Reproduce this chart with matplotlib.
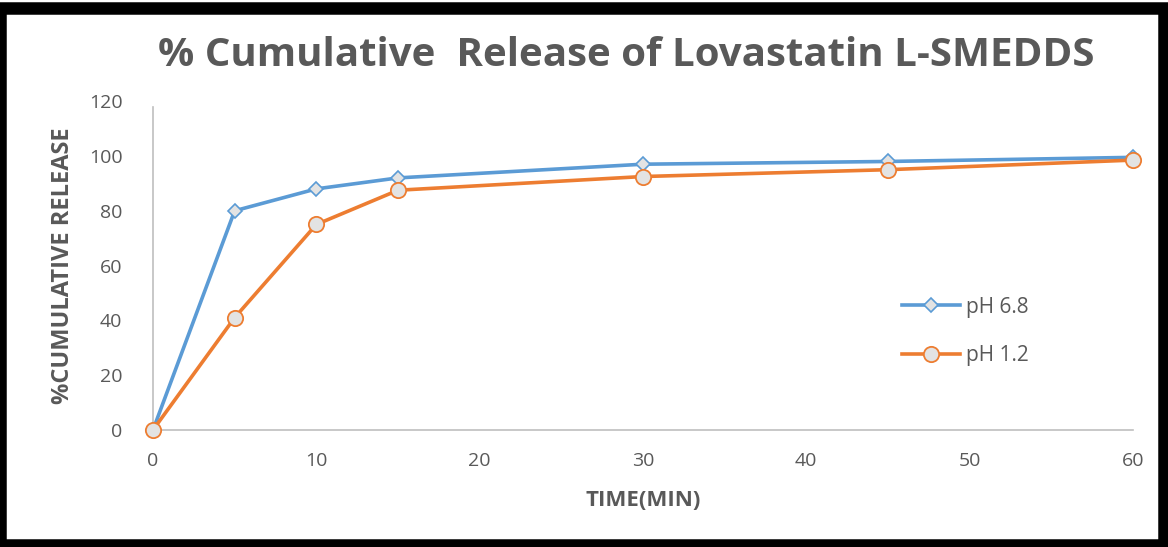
import matplotlib
matplotlib.use("Agg")
import matplotlib.pyplot as plt
from matplotlib.patches import Rectangle

# data
time_min = [0, 5, 10, 15, 30, 45, 60]
ph68 = [0, 80, 88, 92, 97, 98, 99.5]
ph12 = [0, 41, 75, 87.5, 92.5, 95, 98.5]
x_ticks = [0, 10, 20, 30, 40, 50, 60]
y_ticks = [0, 20, 40, 60, 80, 100, 120]

BLUE = "#5B9BD5"
ORANGE = "#ED7D31"
GREY = "#595959"
FACE = "#E3E3E3"

plt.rcParams["font.family"] = ["Open Sans", "DejaVu Sans"]

fig = plt.figure(figsize=(11.68, 5.47), dpi=100)
ax = fig.add_axes([0.131, 0.214, 0.839, 0.601])

ax.plot(time_min, ph68, "-D", color=BLUE, lw=2.6, ms=7, mfc=FACE, mec=BLUE,
        mew=1.2, label="pH 6.8", zorder=3, clip_on=False)
ax.plot(time_min, ph12, "-o", color=ORANGE, lw=2.6, ms=11, mfc=FACE, mec=ORANGE,
        mew=1.3, label="pH 1.2", zorder=3, clip_on=False)

ax.set_xlim(0, 60)
ax.set_ylim(0, 120)
ax.set_xticks(x_ticks)
ax.set_yticks(y_ticks)
ax.tick_params(length=0, colors=GREY, labelsize=14)
ax.tick_params(axis="x", pad=16)
ax.tick_params(axis="y", pad=22)
for s in ["top", "right"]:
    ax.spines[s].set_visible(False)
for s in ["left", "bottom"]:
    ax.spines[s].set_color("#BFBFBF")
    ax.spines[s].set_linewidth(1.2)
ax.spines["left"].set_bounds(0, 118)

ax.set_xlabel("TIME(MIN)", fontsize=16, fontweight="bold", color=GREY, labelpad=14)
ax.set_ylabel("%CUMULATIVE RELEASE", fontsize=17, fontweight="bold", color=GREY,
              labelpad=10)

fig.text(0.536, 0.898, "% Cumulative  Release of Lovastatin L-SMEDDS",
         ha="center", va="center", fontsize=29, fontweight="bold", color=GREY)

ax.legend(loc="center left", bbox_to_anchor=(0.745, 0.30), frameon=False,
          fontsize=15, labelcolor=GREY, handlelength=2.8, labelspacing=1.3,
          handletextpad=0.3)

# black picture frame
fig.patches.append(Rectangle((0.0, 0.003), 0.997, 0.982, transform=fig.transFigure,
                             fill=False, ec="black", lw=9, zorder=10))

fig.savefig("out.png", dpi=100)
